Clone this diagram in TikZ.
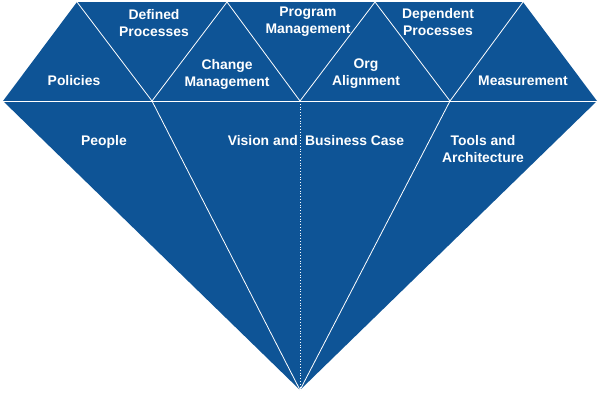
\documentclass[tikz,border=0pt]{standalone}
\usepackage{fontspec}
\setmainfont{Liberation Sans}
\usetikzlibrary{positioning,calc}
\definecolor{GemBlue}{RGB}{14,84,150}
\begin{document}
\begin{tikzpicture}[
        x=1pt, y=-1pt,
        % --- STYLES ---
        facet/.style={draw=white, line width=0.8pt},
        gemtext/.style={
            text=white,
            font=\bfseries\fontsize{13.9}{17}\selectfont,
            align=center,
            inner sep=0pt
        }
    ]
    \useasboundingbox (0,0) rectangle (600,400);

    % --- DIEM CUA VIEN KIM CUONG ---
    \coordinate (T1) at (77,2);
    \coordinate (T2) at (227,2);
    \coordinate (T3) at (375,2);
    \coordinate (T4) at (523,2);
    \coordinate (L) at (3,101);
    \coordinate (G1) at (152,101);
    \coordinate (G2) at (300,101);
    \coordinate (G3) at (450,101);
    \coordinate (R) at (597,101);
    \coordinate (B) at (300,390);

    % --- THAN KIM CUONG ---
    \fill[GemBlue] (T1) -- (T4) -- (R) -- (B) -- (L) -- cycle;

    % --- CAC CANH ---
    \draw[facet] (L) -- (R);
    \draw[facet] (T1) -- (G1) -- (T2) -- (G2) -- (T3) -- (G3) -- (T4);
    \foreach \g in {G1, G3} {
        \draw[facet] (\g) -- (B);
    }
    \draw[facet, dotted, line width=1pt] (G2) -- (B);

    % --- NHAN PHAN TREN ---
    \node[gemtext] (policies) at (74,81) {Policies};
    \node[gemtext] (defined) at (154,23) {Defined\\Processes};
    \node[gemtext] (change) at (227,74) {Change\\Management};
    \node[gemtext] (program) at (308,22) {Program\\Management};
    \node[gemtext] (org) at (366,74) {Org\\Alignment};
    \node[gemtext] (dependent) at (438,22) {Dependent\\Processes};
    \node[gemtext] (measure) at (523,81) {Measurement};

    % --- NHAN PHAN DUOI ---
    \node[gemtext] (people) at (104,142) {People};
    \node[gemtext, anchor=east] (vision) at (298,141) {Vision and};
    \node[gemtext, anchor=west] (business) at (305,141) {Business Case};
    \node[gemtext] (tools) at (483,149) {Tools and\\Architecture};

\end{tikzpicture}
\end{document}
